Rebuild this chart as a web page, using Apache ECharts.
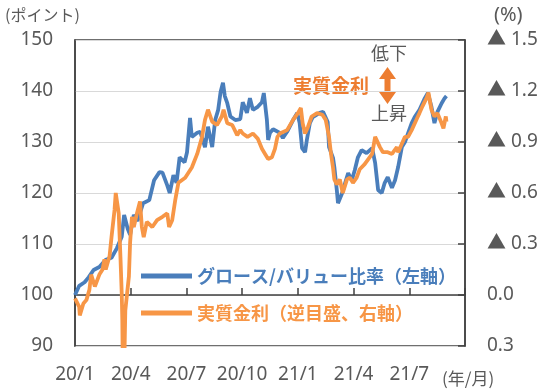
<!DOCTYPE html>
<html><head><meta charset="utf-8">
<script src="https://cdn.jsdelivr.net/npm/echarts@6/dist/echarts.min.js"></script>
<style>html,body{margin:0;padding:0;background:#fff}#c{width:550px;height:392px}</style>
</head><body><div id="c"></div><script>
const xTickLabels = ['20/1','20/4','20/7','20/10','21/1','21/4','21/7'];
const seriesNames = ['グロース/バリュー比率（左軸）','実質金利（逆目盛、右軸）'];

const blueDates = ['2020-01-01','2020-01-08','2020-01-17','2020-01-24','2020-02-01','2020-02-10','2020-02-20','2020-02-29','2020-03-09','2020-03-17','2020-03-21','2020-03-23','2020-03-27','2020-03-31','2020-04-06','2020-04-12','2020-04-21','2020-05-01','2020-05-09','2020-05-18','2020-05-23','2020-05-31','2020-06-04','2020-06-10','2020-06-15','2020-06-20','2020-06-28','2020-07-02','2020-07-07','2020-07-10','2020-07-19','2020-07-24','2020-08-01','2020-08-06','2020-08-13','2020-08-18','2020-08-23','2020-08-27','2020-08-31','2020-09-03','2020-09-07','2020-09-12','2020-09-20','2020-09-28','2020-10-02','2020-10-09','2020-10-14','2020-10-19','2020-10-27','2020-11-03','2020-11-06','2020-11-11','2020-11-13','2020-11-16','2020-11-21','2020-12-02','2020-12-07','2020-12-14','2020-12-24','2020-12-31','2021-01-04','2021-01-08','2021-01-13','2021-01-16','2021-01-21','2021-01-26','2021-02-06','2021-02-11','2021-02-18','2021-02-20','2021-02-26','2021-02-28','2021-03-04','2021-03-06','2021-03-13','2021-03-18','2021-03-23','2021-03-29','2021-04-03','2021-04-08','2021-04-14','2021-04-22','2021-05-01','2021-05-06','2021-05-11','2021-05-17','2021-05-22','2021-05-27','2021-06-03','2021-06-08','2021-06-13','2021-06-19','2021-06-24','2021-07-05','2021-07-10','2021-07-18','2021-07-27','2021-08-01','2021-08-07','2021-08-12','2021-08-17','2021-08-24','2021-08-29','2021-09-01'];
const blueValues = [100,101.8,102.5,103.5,104.9,105.5,106.9,107.3,109.2,111.4,115.7,116,113,111.8,115.7,114.5,118,118.6,122.5,124.1,124,121.5,120,123.5,122,127,126,128,134.7,131,131.8,132,129,133,129,134.3,136.3,139.8,141.6,139,137.6,135,134.3,134.5,137.8,135.7,138.6,136.3,136.9,137.8,139.6,134.3,130.4,131.8,132.5,131.8,130.8,132,134.3,135.7,133.7,128.8,128,130.4,133.7,134.9,135.7,135.9,133.9,129,126.9,125.1,120.6,118,120,122,123.9,122.5,124.5,127,128.4,127.8,128.8,125.9,120.6,120,122,123.1,121,122.5,125.1,129,130,133.7,134.9,136.3,138.6,139.6,136.9,133.7,135.9,137.6,138.6,139];

const orangeDates = ['2020-01-01','2020-01-08','2020-01-09','2020-01-15','2020-01-20','2020-01-25','2020-01-28','2020-02-03','2020-02-10','2020-02-15','2020-02-18','2020-02-20','2020-02-26','2020-02-29','2020-03-05','2020-03-07','2020-03-12','2020-03-15','2020-03-17','2020-03-18','2020-03-19','2020-03-21','2020-03-23','2020-03-29','2020-03-31','2020-04-03','2020-04-06','2020-04-11','2020-04-16','2020-04-19','2020-04-22','2020-04-27','2020-05-06','2020-05-14','2020-05-23','2020-05-31','2020-06-03','2020-06-08','2020-06-13','2020-06-18','2020-06-29','2020-07-10','2020-07-19','2020-07-27','2020-08-01','2020-08-06','2020-08-13','2020-08-21','2020-08-29','2020-09-01','2020-09-07','2020-09-15','2020-09-23','2020-09-28','2020-10-02','2020-10-10','2020-10-19','2020-10-27','2020-11-03','2020-11-08','2020-11-13','2020-11-19','2020-11-24','2020-11-28','2020-12-02','2020-12-14','2020-12-24','2021-01-01','2021-01-06','2021-01-09','2021-01-13','2021-01-18','2021-01-24','2021-02-02','2021-02-10','2021-02-15','2021-02-20','2021-02-23','2021-02-26','2021-02-28','2021-03-04','2021-03-09','2021-03-14','2021-03-21','2021-03-26','2021-03-31','2021-04-06','2021-04-11','2021-04-19','2021-05-01','2021-05-06','2021-05-09','2021-05-14','2021-05-19','2021-05-27','2021-06-03','2021-06-11','2021-06-13','2021-06-19','2021-06-24','2021-06-29','2021-07-05','2021-07-14','2021-07-18','2021-07-23','2021-07-30','2021-08-02','2021-08-07','2021-08-12','2021-08-17','2021-08-24','2021-08-27','2021-08-31','2021-09-01'];
const orangeValues = [0.02,0.07,0.12,0.05,0.03,-0.03,-0.12,-0.05,-0.12,-0.15,-0.21,-0.15,-0.23,-0.34,-0.50,-0.60,-0.48,-0.21,-0.01,0.15,0.50,0.45,0.09,-0.11,-0.31,-0.46,-0.40,-0.48,-0.55,-0.40,-0.34,-0.43,-0.40,-0.44,-0.46,-0.48,-0.40,-0.44,-0.56,-0.66,-0.69,-0.75,-0.83,-0.93,-1.03,-1.09,-1.02,-1.00,-1.05,-1.09,-1.01,-1.00,-0.94,-0.97,-0.95,-0.93,-0.95,-0.92,-0.86,-0.83,-0.80,-0.81,-0.86,-0.93,-0.95,-0.97,-1.03,-1.07,-1.10,-1.01,-0.95,-0.99,-1.05,-1.07,-1.06,-1.03,-0.93,-0.83,-0.75,-0.68,-0.65,-0.68,-0.60,-0.68,-0.69,-0.66,-0.69,-0.74,-0.77,-0.83,-0.93,-0.94,-0.87,-0.84,-0.84,-0.83,-0.87,-0.84,-0.89,-0.93,-0.93,-0.97,-1.04,-1.07,-1.11,-1.16,-1.19,-1.09,-1.05,-1.07,-1.01,-0.98,-1.05,-1.02];

function toMonth(s){
  const [y,m,d] = s.split('-').map(Number);
  const dim = new Date(Date.UTC(y, m, 0)).getUTCDate();
  return (y-2020)*12 + (m-1) + (d-1)/dim;
}
const blueData = blueDates.map((d,i)=>[toMonth(d), blueValues[i]]);
const orangeData = orangeDates.map((d,i)=>[toMonth(d), orangeValues[i]]);

const BLUE = '#4A7EBB', ORANGE = '#F79646', DARKOR = '#ED7D31', GRAY = '#595959', AXIS = '#404040';
const NUMFONT = "'Noto Sans', 'Noto Sans CJK JP', sans-serif";
const JPFONT = "'Noto Sans CJK JP', sans-serif";

const chart = echarts.init(document.getElementById('c'), null, {renderer:'canvas'});
chart.setOption({
  animation: false,
  backgroundColor: '#fff',
  grid: {left: 75, top: 40, right: 85, bottom: 46, show: true, borderColor: AXIS, borderWidth: 1.5, backgroundColor: 'transparent'},
  legend: {
    orient: 'vertical', left: 136, top: 262, itemWidth: 51, itemHeight: 5, itemGap: 19, icon: 'rect',
    textStyle: {fontSize: 18, fontWeight: 'bold', fontFamily: JPFONT},
    data: [
      {name: seriesNames[0], textStyle: {color: BLUE}},
      {name: seriesNames[1], textStyle: {color: ORANGE}}
    ]
  },
  xAxis: {
    type: 'value', min: 0, max: 21, interval: 3,
    axisLine: {lineStyle: {color: AXIS, width: 1.5}},
    axisTick: {inside: true, length: 7, lineStyle: {color: AXIS, width: 1.5}},
    splitLine: {show: false},
    axisLabel: {color: GRAY, fontSize: 19, fontFamily: NUMFONT, margin: 19,
      formatter: v => xTickLabels[Math.round(v/3)] || ''}
  },
  yAxis: [
    {type: 'value', min: 90, max: 150, interval: 10,
     axisLine: {show: true, lineStyle: {color: AXIS, width: 1.5}},
     axisTick: {show: false},
     splitLine: {lineStyle: {color: '#D9D9D9', width: 1}},
     axisLabel: {color: GRAY, fontSize: 19, fontFamily: NUMFONT, margin: 22}},
    {type: 'value', min: -1.5, max: 0.3, interval: 0.3, inverse: true, position: 'right',
     axisLine: {show: true, lineStyle: {color: AXIS, width: 1.5}},
     axisTick: {show: true, inside: true, length: 7, lineStyle: {color: AXIS, width: 1.5}},
     splitLine: {show: false},
     axisLabel: {color: GRAY, fontSize: 19, fontFamily: NUMFONT, margin: 22,
       formatter: v => { const r = Math.round(v*10)/10; return r < 0 ? '▲ ' + (-r).toFixed(1) : Math.abs(r).toFixed(1); }}}
  ],
  series: [
    {name: seriesNames[0], type: 'line', data: blueData, yAxisIndex: 0, showSymbol: false, symbol: 'none',
     lineStyle: {color: BLUE, width: 3.8}, itemStyle: {color: BLUE}},
    {name: seriesNames[1], type: 'line', data: orangeData, yAxisIndex: 1, showSymbol: false, symbol: 'none',
     lineStyle: {color: ORANGE, width: 3.8}, itemStyle: {color: ORANGE}}
  ],
  graphic: [
    {type: 'text', left: 5, top: 7, style: {text: '(ポイント)', fill: GRAY, font: "16px 'Noto Sans CJK JP'"}},
    {type: 'text', left: 494, top: 5, style: {text: '(%)', fill: GRAY, font: "20px 'Noto Sans'"}},
    {type: 'text', left: 442, top: 370, style: {text: '(年/月)', fill: GRAY, font: "17px 'Noto Sans CJK JP'"}},
    {type: 'text', left: 371, top: 44, style: {text: '低下', fill: GRAY, font: "18px 'Noto Sans CJK JP'"}},
    {type: 'text', left: 371, top: 104, style: {text: '上昇', fill: GRAY, font: "18px 'Noto Sans CJK JP'"}},
    {type: 'text', left: 293, top: 76, style: {text: '実質金利', fill: DARKOR, font: "bold 19px 'Noto Sans CJK JP'"}},
    {type: 'polygon', shape: {points: [[387.5,67],[396,79],[390.5,79],[390.5,92],[396,92],[387.5,104],[379,92],[384.5,92],[384.5,79],[379,79]]},
     style: {fill: DARKOR}}
  ]
});
</script></body></html>
